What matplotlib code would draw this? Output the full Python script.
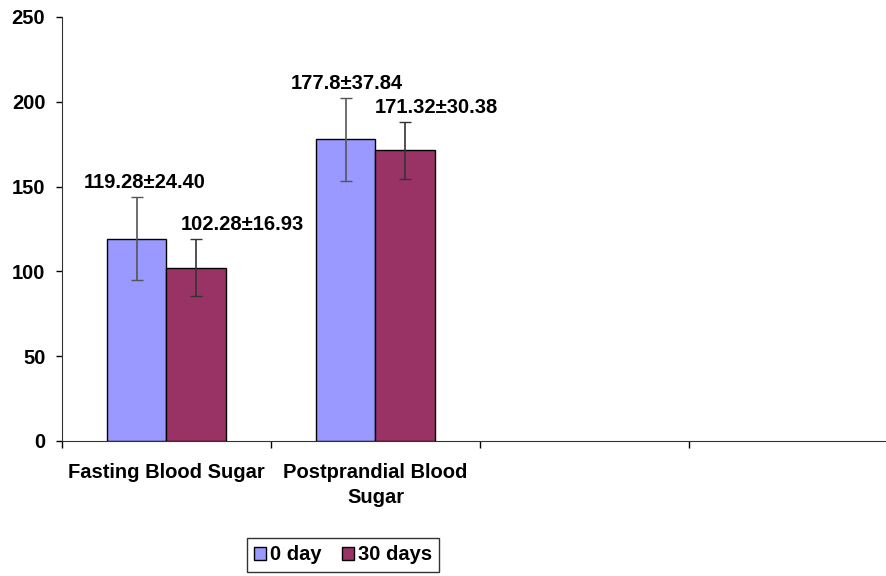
import numpy as np
import matplotlib.pyplot as plt
from matplotlib.ticker import FixedLocator, NullFormatter, FixedFormatter

plt.rcParams['font.family'] = ['Liberation Sans', 'DejaVu Sans']
plt.rcParams['font.weight'] = 'bold'

# data
categories = ['Fasting Blood Sugar', 'Postprandial Blood\nSugar', '', '']
day0 = [119.28, 177.8]
day30 = [102.28, 171.32]
err0 = [24.40, 24.40]   # error bars as drawn
err30 = [16.93, 16.93]
labels0 = ['119.28±24.40', '177.8±37.84']
labels30 = ['102.28±16.93', '171.32±30.38']

fs = 14.5
fig = plt.figure(figsize=(8.87, 5.76), dpi=100)
ax = fig.add_axes([62/887, 1-441/576, 836/887, 424/576])

x = np.arange(len(day0)) + 0.5
w = 0.287
ax.bar(x - w/2, day0, w, color='#9999FF', edgecolor='black', linewidth=1, label='0 day', zorder=2)
ax.bar(x + w/2, day30, w, color='#993366', edgecolor='black', linewidth=1, label='30 days', zorder=2)
ax.errorbar(x - w/2, day0, yerr=err0, fmt='none', ecolor='#555555', elinewidth=1.2, capsize=4, zorder=3)
ax.errorbar(x + w/2, day30, yerr=err30, fmt='none', ecolor='#333333', elinewidth=1.2, capsize=4, zorder=3)

# value labels
dx0 = [0.04, 0.005]
dx30 = [0.22, 0.15]
for i in range(len(day0)):
    ax.text(x[i] - w/2 + dx0[i], day0[i] + err0[i] + 3, labels0[i], ha='center', va='bottom',
            fontsize=fs, fontweight='bold')
    ax.text(x[i] + w/2 + dx30[i], day30[i] + err30[i] + 3, labels30[i], ha='center', va='bottom',
            fontsize=fs, fontweight='bold')

ax.set_xlim(0, 4)
ax.set_ylim(0, 250)
ax.set_yticks([0, 50, 100, 150, 200, 250])
ax.xaxis.set_major_locator(FixedLocator([0, 1, 2, 3]))
ax.xaxis.set_major_formatter(NullFormatter())
ax.xaxis.set_minor_locator(FixedLocator([0.5, 1.5, 2.5, 3.5]))
ax.xaxis.set_minor_formatter(FixedFormatter(categories))
ax.tick_params(axis='x', which='minor', length=0, pad=16, labelsize=fs)
ax.tick_params(axis='x', which='major', direction='out', length=5, width=1)
ax.tick_params(axis='y', direction='out', length=4, width=1, labelsize=fs, pad=8)
for lab in ax.get_yticklabels() + ax.get_xticklabels(minor=True):
    lab.set_fontweight('bold')
for lab in ax.get_xticklabels(minor=True):
    lab.set_linespacing(1.4)

ax.spines['top'].set_visible(False)
ax.spines['right'].set_visible(False)
ax.spines['left'].set_color('#333333')
ax.spines['bottom'].set_color('#333333')

leg = fig.legend(loc='center', bbox_to_anchor=(343/887, 1-555/576), ncol=2,
                 frameon=True, fancybox=False, edgecolor='black', fontsize=fs,
                 handlelength=0.6, handleheight=0.6, handletextpad=0.2, columnspacing=1.0,
                 borderpad=0.35)
leg.get_frame().set_linewidth(1)
for t in leg.get_texts():
    t.set_fontweight('bold')

fig.savefig('out.png', dpi=100)
